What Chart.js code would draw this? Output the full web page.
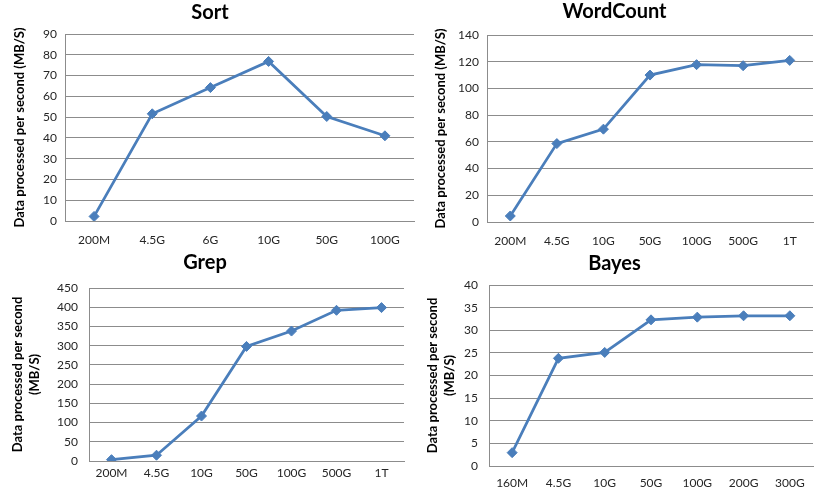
<!DOCTYPE html>
<html>
<head>
<meta charset="utf-8">
<script src="https://cdn.jsdelivr.net/npm/chart.js@4/dist/chart.umd.min.js"></script>
<style>
  body { margin: 0; background: #fff; }
  #wrap { position: relative; width: 819px; height: 494px; overflow: hidden; }
  canvas { position: absolute; }
</style>
</head>
<body>
<div id="wrap">
  <canvas id="sort" width="420" height="247" style="left:0;top:0"></canvas>
  <canvas id="wordcount" width="409" height="247" style="left:410px;top:0"></canvas>
  <canvas id="grep" width="410" height="247" style="left:0;top:247px"></canvas>
  <canvas id="bayes" width="409" height="247" style="left:410px;top:247px"></canvas>
</div>
<script>
// data
const sortLabels = ['200M', '4.5G', '6G', '10G', '50G', '100G'];
const sortValues = [2.2, 51.6, 64.2, 76.8, 50.3, 41];

const wordcountLabels = ['200M', '4.5G', '10G', '50G', '100G', '500G', '1T'];
const wordcountValues = [4.5, 58.7, 69.5, 110, 117.8, 117, 121];

const grepLabels = ['200M', '4.5G', '10G', '50G', '100G', '500G', '1T'];
const grepValues = [3.5, 15, 117, 298, 338, 392, 399];

const bayesLabels = ['160M', '4.5G', '10G', '50G', '100G', '200G', '300G'];
const bayesValues = [2.95, 23.8, 25.1, 32.3, 32.9, 33.2, 33.2];

const yTitleOne = 'Data processed per second (MB/S)';
const yTitleTwo = ['Data processed per second', '(MB/S)'];

const FONT = 'Lato, "Open Sans", sans-serif';
const BLUE = '#4a7ebb';
const GRID = '#8c8c8c';

function makeChart(id, cfg) {
    const ctx = document.getElementById(id).getContext('2d');
    return new Chart(ctx, {
        type: 'line',
        data: {
            labels: cfg.labels,
            datasets: [{
                data: cfg.values,
                borderColor: BLUE,
                backgroundColor: BLUE,
                borderWidth: 2.75,
                pointStyle: 'rectRot',
                pointRadius: 5,
                pointBorderWidth: 1,
                tension: 0
            }]
        },
        options: {
            responsive: false,
            animation: false,
            layout: { padding: 0 },
            plugins: {
                legend: { display: false },
                tooltip: { enabled: false },
                title: {
                    display: true,
                    text: cfg.title,
                    color: '#000',
                    font: { family: FONT, size: 20, weight: 'bold', lineHeight: 1.2 },
                    padding: { top: cfg.titleTop, bottom: cfg.titleBottom }
                }
            },
            scales: {
                x: {
                    offset: true,
                    grid: { display: false, drawTicks: false },
                    border: { display: true, color: GRID, width: 1 },
                    ticks: {
                        color: '#262626',
                        padding: cfg.xPad,
                        maxRotation: 0,
                        autoSkip: false,
                        font: { family: FONT, size: 12 }
                    },
                    afterFit: (scale) => { scale.height = cfg.xHeight; }
                },
                y: {
                    min: 0,
                    max: cfg.max,
                    grid: { color: GRID, lineWidth: 1, drawTicks: false },
                    border: { display: true, color: GRID, width: 1 },
                    ticks: {
                        stepSize: cfg.step,
                        color: '#262626',
                        padding: cfg.yPad,
                        font: { family: FONT, size: 12 }
                    },
                    title: {
                        display: true,
                        text: cfg.yTitle,
                        color: '#000',
                        font: { family: FONT, size: 13, weight: 'bold', lineHeight: 1.3 },
                        padding: { top: cfg.yTitleTop, bottom: 0 }
                    },
                    afterFit: (scale) => { scale.width = cfg.yWidth; }
                }
            }
        }
    });
}

makeChart('sort', {
    title: 'Sort', labels: sortLabels, values: sortValues,
    max: 90, step: 10, yTitle: yTitleOne, yTitleTop: 11,
    titleTop: 1, titleBottom: 9, xHeight: 26, xPad: 12, yWidth: 65, yPad: 8
});

makeChart('wordcount', {
    title: 'WordCount', labels: wordcountLabels, values: wordcountValues,
    max: 140, step: 20, yTitle: yTitleOne, yTitleTop: 22,
    titleTop: 0, titleBottom: 11, xHeight: 25, xPad: 12, yWidth: 77, yPad: 8
});

makeChart('grep', {
    title: 'Grep', labels: grepLabels, values: grepValues,
    max: 450, step: 50, yTitle: yTitleTwo, yTitleTop: 9,
    titleTop: 4, titleBottom: 13, xHeight: 33, xPad: 5, yWidth: 89, yPad: 11
});

makeChart('bayes', {
    title: 'Bayes', labels: bayesLabels, values: bayesValues,
    max: 40, step: 5, yTitle: yTitleTwo, yTitleTop: 14,
    titleTop: 5, titleBottom: 9, xHeight: 28, xPad: 10, yWidth: 79, yPad: 11
});
</script>
</body>
</html>
